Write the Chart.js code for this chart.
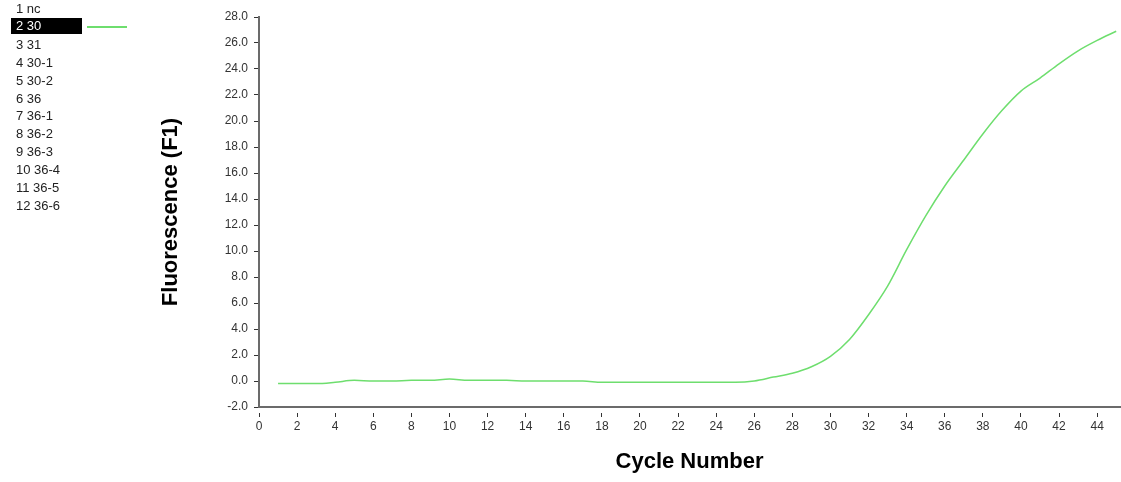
<!DOCTYPE html>
<html>
<head>
<meta charset="utf-8">
<script src="https://cdn.jsdelivr.net/npm/chart.js@4/dist/chart.umd.min.js"></script>
<style>
  html, body { margin: 0; padding: 0; background: #fff; }
  #wrap { position: relative; width: 1121px; height: 482px; }
  #chart { position: absolute; left: 0; top: 0; }
  #legend { position: absolute; left: 0; top: 0; font-family: "Liberation Sans", Arial, sans-serif; font-size: 13px; color: #222; }
  #legend .item { position: absolute; left: 16px; height: 18px; line-height: 18px; white-space: nowrap; }
  #legend .sel { background: #000; color: #fff; left: 11px; padding-left: 5px; width: 66px; height: 16px; line-height: 16px; }
  #legend .swatch { position: absolute; left: 87px; width: 40px; height: 2px; }
</style>
</head>
<body>
<div id="wrap">
  <canvas id="chart" width="1121" height="482"></canvas>
  <div id="legend"></div>
</div>
<script>
// ---- data ----
const legendLabels = ["1 nc", "2 30", "3 31", "4 30-1", "5 30-2", "6 36", "7 36-1", "8 36-2", "9 36-3", "10 36-4", "11 36-5", "12 36-6"];
const plottedIndex = 1; // "2 30" is the only plotted sample
const cycles = [1,2,3,4,5,6,7,8,9,10,11,12,13,14,15,16,17,18,19,20,21,22,23,24,25,26,27,28,29,30,31,32,33,34,35,36,37,38,39,40,41,42,43,44,45];
const fluorescence = [-0.2,-0.2,-0.2,-0.1,0.05,0.0,0.0,0.05,0.05,0.15,0.05,0.05,0.05,0.0,0.0,0.0,0.0,-0.1,-0.1,-0.1,-0.1,-0.1,-0.1,-0.1,-0.1,0.0,0.3,0.6,1.1,1.9,3.2,5.1,7.3,10.1,12.7,15.0,17.0,19.0,20.8,22.3,23.3,24.4,25.4,26.2,26.9];
const xTickValues = [0,2,4,6,8,10,12,14,16,18,20,22,24,26,28,30,32,34,36,38,40,42,44];
const yTickValues = [-2,0,2,4,6,8,10,12,14,16,18,20,22,24,26,28];
const xTitle = "Cycle Number";
const yTitle = "Fluorescence (F1)";
const lineColor = "#6ede6e";

// ---- legend (HTML list) ----
const leg = document.getElementById('legend');
legendLabels.forEach((t, i) => {
  const d = document.createElement('div');
  d.className = 'item' + (i === plottedIndex ? ' sel' : '');
  d.textContent = t;
  d.style.top = (i === plottedIndex ? 18 : i * 17.9) + 'px';
  leg.appendChild(d);
  if (i === plottedIndex) {
    const s = document.createElement('div');
    s.className = 'swatch';
    s.style.top = (i * 17.9 + 8) + 'px';
    s.style.background = lineColor;
    leg.appendChild(s);
  }
});

const tickFont = { family: '"Liberation Sans", Arial, sans-serif', size: 12 };
const titleFont = { family: '"Liberation Sans", Arial, sans-serif', size: 22, weight: 'bold' };
const axisColor = '#6b6b6b';

new Chart(document.getElementById('chart'), {
  type: 'line',
  data: {
    labels: cycles,
    datasets: [{
      label: legendLabels[plottedIndex],
      data: cycles.map((c, i) => ({ x: c, y: fluorescence[i] })),
      borderColor: lineColor,
      borderWidth: 1.5,
      pointRadius: 0,
      cubicInterpolationMode: 'monotone',
      fill: false
    }]
  },
  options: {
    responsive: false,
    animation: false,
    layout: { padding: { top: 17, right: 1, left: 0, bottom: 0 } },
    plugins: { legend: { display: false }, tooltip: { enabled: false } },
    scales: {
      x: {
        type: 'linear',
        min: 0,
        max: 45.2,
        afterBuildTicks: s => { s.ticks = xTickValues.map(v => ({ value: v })); },
        afterFit: s => { s.height = 75; },
        border: { display: true, color: axisColor, width: 2 },
        grid: {
          drawOnChartArea: false, drawTicks: true, tickLength: 10,
          tickColor: '#333', tickWidth: 1,
          tickBorderDash: [5, 5], tickBorderDashOffset: 5
        },
        ticks: { font: tickFont, color: '#333', padding: 2, maxRotation: 0, autoSkip: false,
                 callback: v => String(v) },
        title: { display: true, text: xTitle, font: titleFont, color: '#000', padding: { top: 0, bottom: 7 } }
      },
      y: {
        type: 'linear',
        min: -2,
        max: 28,
        afterBuildTicks: s => { s.ticks = yTickValues.map(v => ({ value: v })); },
        afterFit: s => { s.width = 259; },
        border: { display: true, color: axisColor, width: 2 },
        grid: {
          drawOnChartArea: false, drawTicks: true, tickLength: 8,
          tickColor: '#333', tickWidth: 1,
          tickBorderDash: [5, 3], tickBorderDashOffset: 5
        },
        ticks: { font: tickFont, color: '#333', padding: 3, autoSkip: false,
                 callback: v => Number(v).toFixed(1) },
        title: { display: true, text: yTitle, font: titleFont, color: '#000', padding: { top: 158, bottom: 0 } }
      }
    }
  }
});
</script>
</body>
</html>
